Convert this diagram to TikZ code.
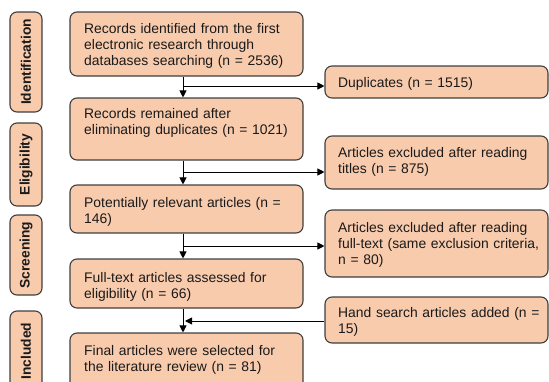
\documentclass[tikz,border=0pt]{standalone}
\usepackage{fontspec}
\setmainfont{Liberation Sans}
\usetikzlibrary{arrows.meta}
\definecolor{peach}{HTML}{F8CBAD}
\definecolor{edgecol}{HTML}{3F3F3F}
\definecolor{txtcol}{HTML}{1A1A1A}
\tikzset{
  boxshape/.style={draw=edgecol, fill=peach, rounded corners=7pt, line width=1.1pt, inner sep=0pt},
  boxtext/.style={anchor=base west, inner sep=0pt, text width=#1, align=left, text=txtcol,
    font=\fontsize{13.9}{16}\selectfont},
  sidetext/.style={rotate=90, text=txtcol, font=\fontsize{13.8}{16}\selectfont\bfseries, inner sep=0pt},
  arr/.style={draw=black, line width=0.9pt, -{Triangle[length=7pt,width=7pt]}},
  plain/.style={draw=black, line width=0.9pt}
}
\begin{document}
\begin{tikzpicture}[x=1pt,y=-1pt]
\useasboundingbox (0,0) rectangle (549,381);
\clip (0,0) rectangle (549,381);
% side labels
\node[boxshape, minimum width=32pt, minimum height=100pt] (sid) at (26,62) {};
\node[sidetext] (sidt) at (sid.center) {Identification};
\node[boxshape, minimum width=32pt, minimum height=83pt] (sel) at (26,164.5) {};
\node[sidetext] (selt) at (sel.center) {Eligibility};
\node[boxshape, minimum width=32pt, minimum height=80pt] (ssc) at (26,255) {};
\node[sidetext] (ssct) at (ssc.center) {Screening};
\node[boxshape, minimum width=32pt, minimum height=80pt] (sin) at (26,351) {};
\node[sidetext] (sint) at (sin.center) {Included};
% main boxes
\node[boxshape, minimum width=233pt, minimum height=64pt] (b1) at (186.5,44) {};
\node[boxtext=215pt] (t1) at (84,33) {Records identified from the first\\electronic research through\\databases searching (n = 2536)};
\node[boxshape, minimum width=233pt, minimum height=62pt] (b2) at (186.5,129) {};
\node[boxtext=215pt] (t2) at (84,118) {Records remained after\\eliminating duplicates (n = 1021)};
\node[boxshape, minimum width=233pt, minimum height=48pt] (b3) at (186.5,209) {};
\node[boxtext=215pt] (t3) at (84,207) {Potentially relevant articles (n =\\146)};
\node[boxshape, minimum width=233pt, minimum height=49pt] (b4) at (186.5,283.5) {};
\node[boxtext=215pt] (t4) at (84,282) {Full-text articles assessed for\\eligibility (n = 66)};
\node[boxshape, minimum width=233pt, minimum height=67pt] (b5) at (186.5,366.5) {};
\node[boxtext=215pt] (t5) at (84,355) {Final articles were selected for\\the literature review (n = 81)};
% right boxes
\node[boxshape, minimum width=223pt, minimum height=32pt] (r1) at (436.5,82) {};
\node[boxtext=205pt] (u1) at (338,87) {Duplicates (n = 1515)};
\node[boxshape, minimum width=223pt, minimum height=53pt] (r2) at (436.5,162.5) {};
\node[boxtext=205pt] (u2) at (338,157) {Articles excluded after reading\\titles (n = 875)};
\node[boxshape, minimum width=223pt, minimum height=67pt] (r3) at (436.5,243.5) {};
\node[boxtext=205pt] (u3) at (338,232) {Articles excluded after reading\\full-text (same exclusion criteria,\\n = 80)};
\node[boxshape, minimum width=223pt, minimum height=46pt] (r4) at (436.5,320) {};
\node[boxtext=205pt] (u4) at (338,317) {Hand search articles added (n =\\15)};
% connectors
\coordinate (spine) at (183,0);
\coordinate (j1) at (183,86);
\coordinate (j2) at (183,172);
\coordinate (j3) at (183,246);
\coordinate (j4) at (185,321);
\draw[arr] (b1.south -| spine) -- (b2.north -| spine);
\draw[arr] (b2.south -| spine) -- (b3.north -| spine);
\draw[arr] (b3.south -| spine) -- (b4.north -| spine);
\draw[arr] (b4.south -| spine) -- (b5.north -| spine);
\draw[arr] (j1) -- (j1 -| r1.west);
\draw[arr] (j2) -- (j2 -| r2.west);
\draw[arr] (j3) -- (j3 -| r3.west);
\draw[arr] (j4 -| r4.west) -- (j4);
\end{tikzpicture}
\end{document}
